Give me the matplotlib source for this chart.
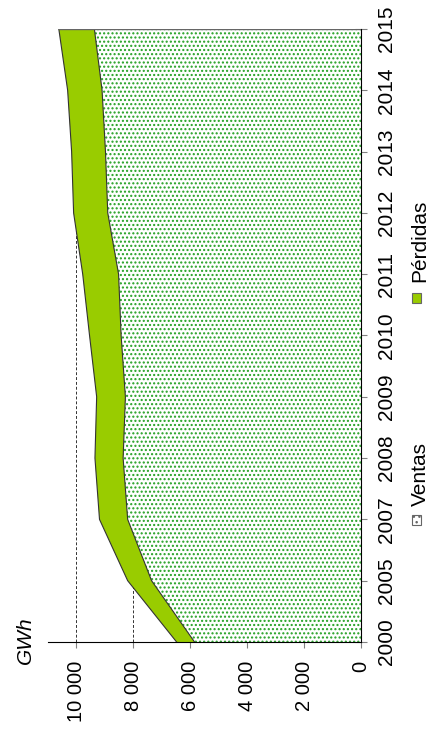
import matplotlib.pyplot as plt
import numpy as np
from matplotlib.patches import Rectangle

plt.rcParams["font.family"] = ["Liberation Sans", "DejaVu Sans"]
plt.rcParams["hatch.linewidth"] = 1.0
plt.rcParams["hatch.color"] = "#22a022"

years = ["2000", "2005", "2007", "2008", "2009", "2010", "2011", "2012", "2013", "2014", "2015"]
ventas = [5850, 7360, 8200, 8360, 8280, 8430, 8520, 8900, 8980, 9100, 9370]
perdidas = [630, 840, 990, 990, 1010, 1110, 1260, 1200, 1190, 1210, 1250]
value_ticks = [0, 2000, 4000, 6000, 8000, 10000]

W, H = 430, 730
fig = plt.figure(figsize=(W / 100, H / 100), dpi=100)
ax = fig.add_axes([48 / W, 88 / H, (361 - 48) / W, (642 - 29) / H])

pos = np.arange(len(years))
ventas = np.array(ventas)
total = ventas + np.array(perdidas)

# chart is drawn turned a quarter: years run up the right side, GWh grows to the left
ax.fill_betweenx(pos, 0, ventas, facecolor="white", edgecolor="#22a022",
                 hatch="....", linewidth=0, zorder=2)
ax.fill_betweenx(pos, ventas, total, facecolor="#99cc00", linewidth=0, zorder=2)
ax.plot(ventas, pos, color="#333333", lw=0.8, zorder=3)
ax.plot(total, pos, color="#333333", lw=0.8, zorder=3)
ax.plot([0, total[-1]], [pos[-1], pos[-1]], color="#666666", lw=1.0, zorder=3)

ax.set_xlim(11000, 0)
ax.set_ylim(pos[0], pos[-1])

for v in value_ticks[1:]:
    ax.axvline(v, color="#333333", lw=0.7, ls=(0, (3, 2)), zorder=1)

ax.set_xticks(value_ticks)
ax.set_xticklabels([f"{v:,}".replace(",", " ") for v in value_ticks], rotation=90, fontsize=14.5)
ax.yaxis.tick_right()
ax.set_yticks(pos)
ax.set_yticklabels(years, rotation=90, va="center", fontsize=15)
ax.tick_params(axis="x", direction="out", length=4.5, color="#808080", pad=9)
ax.tick_params(axis="y", direction="inout", length=8.5, color="#808080", pad=7)

for side in ["left", "top"]:
    ax.spines[side].set_visible(False)
ax.spines["right"].set_color("black")
ax.spines["bottom"].set_color("black")
ax.spines["right"].set_zorder(4)

fig.text(25 / W, 1 - 640 / H, "GWh", rotation=90, style="italic", fontsize=15,
         ha="center", va="center")

# legend, turned like the chart
fig.patches.append(Rectangle((412 / W, 1 - 525 / H), 9 / W, 10 / H, transform=fig.transFigure,
                             facecolor="white", edgecolor="#666666", hatch="...", lw=0.8))
fig.text(420 / W, 1 - 474 / H, "Ventas", rotation=90, fontsize=15, ha="center", va="center")
fig.patches.append(Rectangle((412 / W, 1 - 303 / H), 9 / W, 10 / H, transform=fig.transFigure,
                             facecolor="#99cc00", edgecolor="#666666", lw=0.8))
fig.text(420 / W, 1 - 241 / H, "Pérdidas", rotation=90, fontsize=15, ha="center", va="center")

fig.savefig("out.png", dpi=100)
